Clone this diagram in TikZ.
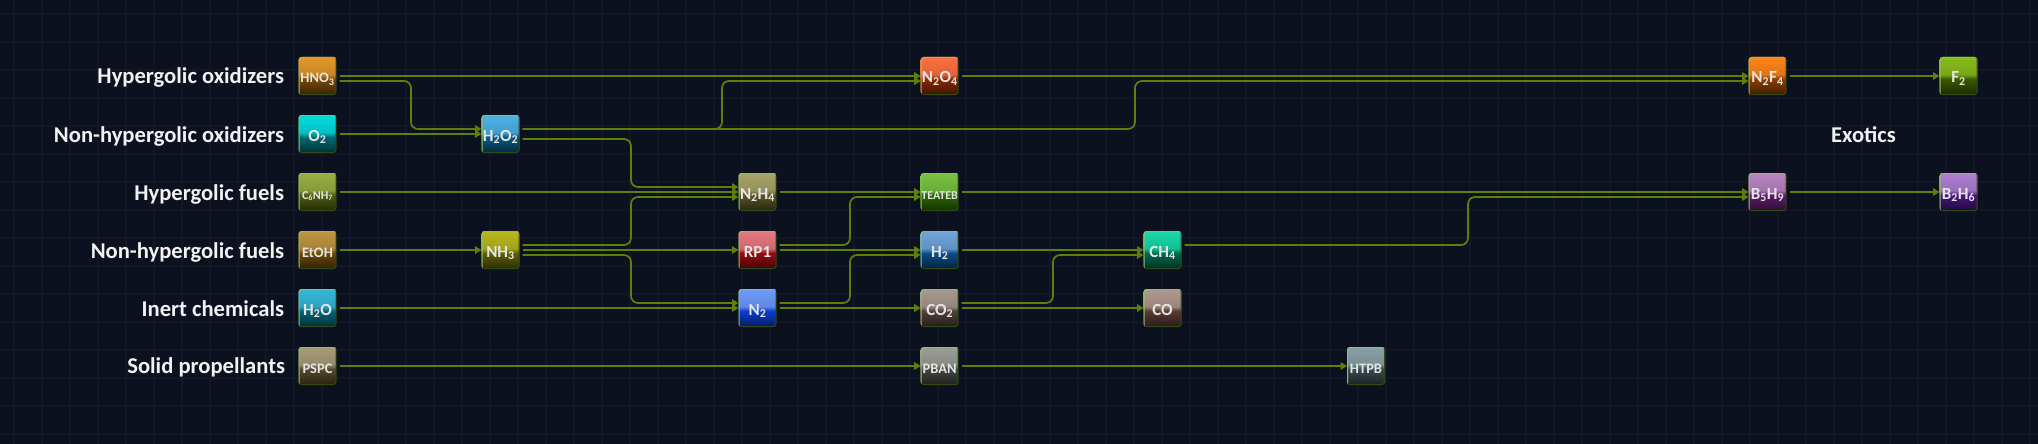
\documentclass[tikz,border=0pt]{standalone}
\usepackage{fontspec}
\setmainfont{Carlito}
\usetikzlibrary{arrows.meta}

\definecolor{nightbg}{HTML}{0B111F}
\definecolor{gridline}{HTML}{141627}
\definecolor{wirecol}{HTML}{5F7F0C}
\definecolor{rimlight}{HTML}{8FC060}
\definecolor{rimdark}{HTML}{2F4A14}
\definecolor{chemtop}{HTML}{888888}
\definecolor{chemlow}{HTML}{444444}
\pgfdeclareverticalshading[chemtop,chemlow]{glass}{100bp}{
    color(0bp)=(chemlow!45!black); color(25bp)=(chemlow!45!black);
    color(46bp)=(chemlow); color(52bp)=(chemtop!88!black);
    color(75bp)=(chemtop); color(100bp)=(chemtop)}

\begin{document}
\begin{tikzpicture}[
    x=1pt, y=-1pt,
    chem/.style 2 args={/utils/exec={\definecolor{chemtop}{HTML}{#1}\definecolor{chemlow}{HTML}{#2}},
        shading=glass, rounded corners=3pt, outer sep=0pt,
        minimum size=38pt, inner sep=0pt, text height=14pt, text depth=0pt,
        text=white!90!black, font=\bfseries\fontsize{17}{17}\selectfont,
        path picture={
            \draw[rimdark, line width=2pt] (path picture bounding box.south west) -- (path picture bounding box.south east) -- (path picture bounding box.north east);
            \draw[rimlight, line width=2pt] (path picture bounding box.south west) -- (path picture bounding box.north west) -- (path picture bounding box.north east);
        }},
    small/.style={font=\bfseries\fontsize{14.5}{14.5}\selectfont},
    tiny/.style={font=\bfseries\fontsize{12}{12}\selectfont},
    tierlab/.style={anchor=base east, text=white!95!black, font=\bfseries\fontsize{22.6}{22.6}\selectfont},
    wire/.style={draw=wirecol, line width=1.7pt, rounded corners=7pt, shorten <=3pt,
        -{Triangle[length=6.5pt,width=7.5pt]}},
    elbow/.style={to path={-- (\tikztostart -| #1) -- (\tikztotarget -| #1) -- (\tikztotarget)}},
]
\useasboundingbox (0,0) rectangle (2038,444);
% Background and grid
\fill[nightbg] (0,0) rectangle (2038,444);
\foreach \gx in {14,42,...,2038} \draw[gridline, line width=2pt] (\gx,0) -- (\gx,444);
\foreach \gy in {14,42,...,444} \draw[gridline, line width=2pt] (0,\gy) -- (2038,\gy);

% Row labels
\node[tierlab] (labhyo) at (287.6,84) {Hypergolic oxidizers};
\node[tierlab] (labnho) at (287.6,142) {Non-hypergolic oxidizers};
\node[tierlab] (labhyf) at (287.6,200) {Hypergolic fuels};
\node[tierlab] (labnhf) at (287.6,258) {Non-hypergolic fuels};
\node[tierlab] (labine) at (287.6,316) {Inert chemicals};
\node[tierlab] (labsol) at (288.6,373) {Solid propellants};
\node[tierlab, anchor=base] (labexo) at (1863.5,142) {Exotics};

% Oxidizers
\node[chem={E3982A}{7A4A08}, small] (hno) at (317.5,76) {HNO\textsubscript{3}};
\node[chem={FF7040}{8A2A00}] (nto) at (939.7,76) {N\textsubscript{2}O\textsubscript{4}};
\node[chem={FF8418}{8A4000}] (nfo) at (1767.5,76) {N\textsubscript{2}F\textsubscript{4}};
\node[chem={88BC1C}{3E5800}] (flu) at (1958.5,76) {F\textsubscript{2}};
\node[chem={00DCE0}{006A72}] (oxy) at (317.5,134) {O\textsubscript{2}};
\node[chem={4DB2E8}{0A5A85}] (per) at (500.5,134) {H\textsubscript{2}O\textsubscript{2}};

% Fuels
\node[chem={9AAE42}{4E5E10}, tiny] (ani) at (317.5,192) {C\textsubscript{6}NH\textsubscript{7}};
\node[chem={A8A468}{5A5424}] (hyd) at (757.5,192) {N\textsubscript{2}H\textsubscript{4}};
\node[chem={78C440}{2C6A00}, tiny] (tea) at (939.7,192) {TEATEB};
\node[chem={BA84C4}{5E1E6A}] (pen) at (1767.5,192) {B\textsubscript{5}H\textsubscript{9}};
\node[chem={B07ED4}{4A1680}] (dib) at (1958.5,192) {B\textsubscript{2}H\textsubscript{6}};
\node[chem={BE9440}{6A4A08}, small] (eth) at (317.5,250) {EtOH};
\node[chem={B8B81C}{5E6004}] (amm) at (500.5,250) {NH\textsubscript{3}};
\node[chem={E87880}{960A10}] (rpo) at (757.5,250) {RP1};
\node[chem={70A4DC}{0C4C88}] (hgn) at (939.7,250) {H\textsubscript{2}};
\node[chem={18D8A8}{006A50}] (met) at (1162.5,250) {CH\textsubscript{4}};

% Inert
\node[chem={35B8D8}{056478}] (wat) at (317.5,308) {H\textsubscript{2}O};
\node[chem={6E9AFF}{0A3CD0}] (ngn) at (757.5,308) {N\textsubscript{2}};
\node[chem={A89890}{50403A}] (cdi) at (939.7,308) {CO\textsubscript{2}};
\node[chem={B09890}{5A3A32}] (cmo) at (1162.5,308) {CO};

% Solids
\node[chem={A89C78}{554A28}, small] (psp) at (317.5,366) {PSPC};
\node[chem={9A9E94}{454742}, small] (pba) at (939.7,366) {PBAN};
\node[chem={8AA0A8}{3A4A50}, small] (htp) at (1366,366) {HTPB};

% Vertical runs of the bent connectors
\coordinate (runa) at (411,0);
\coordinate (runb) at (631,0);
\coordinate (runc) at (722,0);
\coordinate (rund) at (850,0);
\coordinate (rune) at (1053,0);
\coordinate (runf) at (1135,0);
\coordinate (rung) at (1468,0);

% Straight connectors
\draw[wire] (hno) -- (nto);
\draw[wire] (nto) -- (nfo);
\draw[wire] (nfo) -- (flu);
\draw[wire] (oxy) -- (per);
\draw[wire] (ani) -- (hyd);
\draw[wire] (hyd) -- (tea);
\draw[wire] (tea) -- (pen);
\draw[wire] (pen) -- (dib);
\draw[wire] (eth) -- (amm);
\draw[wire] (amm) -- (rpo);
\draw[wire] (rpo) -- (hgn);
\draw[wire] (hgn) -- (met);
\draw[wire] (wat) -- (ngn);
\draw[wire] (ngn) -- (cdi);
\draw[wire] (cdi) -- (cmo);
\draw[wire] (psp) -- (pba);
\draw[wire] (pba) -- (htp);

% Bent connectors
\draw[wire] ([yshift=-5pt]hno.east) to[elbow=runa] ([yshift=5pt]per.west);
\draw[wire] ([yshift=5pt]per.east) to[elbow=runc] ([yshift=-5pt]nto.west);
\draw[wire] ([yshift=5pt]per.east) to[elbow=runf] ([yshift=-5pt]nfo.west);
\draw[wire] ([yshift=-5pt]per.east) to[elbow=runb] ([yshift=5pt]hyd.west);
\draw[wire] ([yshift=5pt]amm.east) to[elbow=runb] ([yshift=-5pt]hyd.west);
\draw[wire] ([yshift=-5pt]amm.east) to[elbow=runb] ([yshift=5pt]ngn.west);
\draw[wire] ([yshift=5pt]rpo.east) to[elbow=rund] ([yshift=-5pt]tea.west);
\draw[wire] ([yshift=5pt]ngn.east) to[elbow=rund] ([yshift=-5pt]hgn.west);
\draw[wire] ([yshift=5pt]cdi.east) to[elbow=rune] ([yshift=-5pt]met.west);
\draw[wire] ([yshift=5pt]met.east) to[elbow=rung] ([yshift=-5pt]pen.west);
\end{tikzpicture}
\end{document}
